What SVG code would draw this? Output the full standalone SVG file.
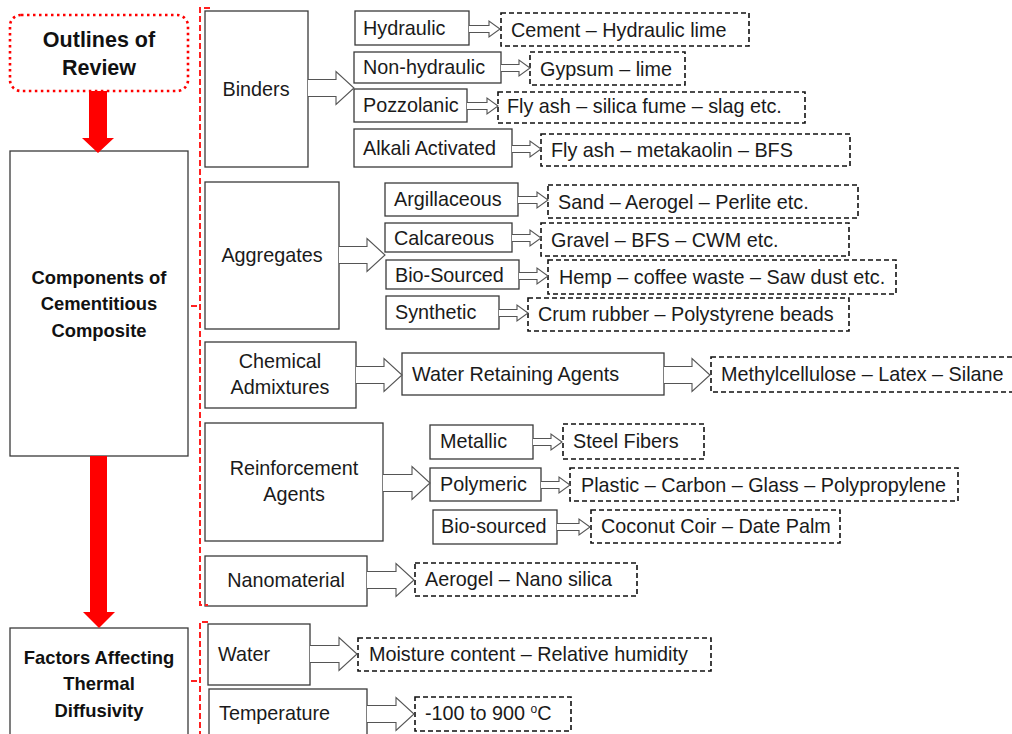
<svg xmlns="http://www.w3.org/2000/svg" width="1012" height="734" viewBox="0 0 1012 734">
<defs>
<style>
.bx{fill:#fff;stroke:#3a3a3a;stroke-width:1.3}
.dx{fill:#fff;stroke:#111;stroke-width:1.6;stroke-dasharray:5 3}
.t{font-family:"Liberation Sans",Arial,sans-serif;font-size:19.8px;fill:#1a1a1a}
.c{text-anchor:middle}
.b{font-family:"Liberation Sans",Arial,sans-serif;font-weight:bold;font-size:18.4px;fill:#111;text-anchor:middle}
.ha{fill:#fff;stroke:#555;stroke-width:1.1}
.red{fill:#ff0000}
.br{fill:none;stroke:#ff2020;stroke-width:2;stroke-dasharray:6 3}
</style>
</defs>

<g id="outlines">
<rect x="10" y="15" width="178" height="76" rx="11" fill="#fff" stroke="#ff0000" stroke-width="2.6" stroke-dasharray="2.5 3.5"/>
<text class="b" x="99" y="47" style="font-size:21.5px">Outlines of</text>
<text class="b" x="99" y="75" style="font-size:21.5px">Review</text>
</g>

<g id="components">
<rect class="bx" x="10" y="151" width="178" height="305" stroke="#111"/>
<text class="b" x="99" y="284">Components of</text>
<text class="b" x="99" y="310">Cementitious</text>
<text class="b" x="99" y="337">Composite</text>
</g>

<g id="factors">
<rect class="bx" x="10" y="628" width="178" height="120" stroke="#111"/>
<text class="b" x="99" y="664">Factors Affecting</text>
<text class="b" x="99" y="690">Thermal</text>
<text class="b" x="99" y="717">Diffusivity</text>
</g>

<g id="binders">
<rect class="bx" x="205" y="11" width="103" height="156"/>
<text class="t c" x="256" y="96">Binders</text>
</g>
<g id="hydraulic"><rect class="bx" x="355" y="11" width="114" height="34"/><text class="t" x="363" y="35">Hydraulic</text></g>
<g id="cement"><rect class="dx" x="501" y="13" width="248" height="33"/><text class="t" x="511" y="37">Cement – Hydraulic lime</text></g>
<g id="nonhydraulic"><rect class="bx" x="354" y="52" width="147" height="31"/><text class="t" x="363" y="74">Non-hydraulic</text></g>
<g id="gypsum"><rect class="dx" x="530" y="52" width="155" height="33"/><text class="t" x="540" y="76">Gypsum – lime</text></g>
<g id="pozzolanic"><rect class="bx" x="354" y="89" width="113" height="33"/><text class="t" x="363" y="112">Pozzolanic</text></g>
<g id="flyash1"><rect class="dx" x="498" y="92" width="307" height="31"/><text class="t" x="507" y="113">Fly ash – silica fume – slag etc.</text></g>
<g id="alkali"><rect class="bx" x="354" y="129" width="158" height="38"/><text class="t" x="363" y="155">Alkali Activated</text></g>
<g id="flyash2"><rect class="dx" x="541" y="134" width="309" height="32"/><text class="t" x="551" y="157">Fly ash – metakaolin – BFS</text></g>

<g id="aggregates">
<rect class="bx" x="205" y="182" width="134" height="147"/>
<text class="t c" x="272" y="262">Aggregates</text>
</g>
<g id="argillaceous"><rect class="bx" x="385" y="183" width="133" height="33"/><text class="t" x="394" y="206">Argillaceous</text></g>
<g id="sand"><rect class="dx" x="548" y="185" width="310" height="33"/><text class="t" x="558" y="209">Sand – Aerogel – Perlite etc.</text></g>
<g id="calcareous"><rect class="bx" x="385" y="223" width="127" height="29"/><text class="t" x="394" y="245">Calcareous</text></g>
<g id="gravel"><rect class="dx" x="541" y="223" width="308" height="33"/><text class="t" x="551" y="247">Gravel – BFS – CWM etc.</text></g>
<g id="biosourced1"><rect class="bx" x="386" y="260" width="133" height="29"/><text class="t" x="395" y="282">Bio-Sourced</text></g>
<g id="hemp"><rect class="dx" x="548" y="260" width="348" height="34"/><text class="t" x="559" y="284">Hemp – coffee waste – Saw dust etc.</text></g>
<g id="synthetic"><rect class="bx" x="386" y="296" width="113" height="33"/><text class="t" x="395" y="319">Synthetic</text></g>
<g id="crum"><rect class="dx" x="528" y="298" width="321" height="33"/><text class="t" x="538" y="321">Crum rubber – Polystyrene beads</text></g>

<g id="chemical">
<rect class="bx" x="205" y="342" width="151" height="66"/>
<text class="t c" x="280" y="368">Chemical</text>
<text class="t c" x="280" y="394">Admixtures</text>
</g>
<g id="waterretaining"><rect class="bx" x="402" y="353" width="262" height="42"/><text class="t" x="412" y="381">Water Retaining Agents</text></g>
<g id="methyl"><rect class="dx" x="711" y="357" width="310" height="35"/><text class="t" x="721" y="381">Methylcellulose – Latex – Silane</text></g>

<g id="reinforcement">
<rect class="bx" x="205" y="423" width="178" height="118"/>
<text class="t c" x="294" y="475">Reinforcement</text>
<text class="t c" x="294" y="501">Agents</text>
</g>
<g id="metallic"><rect class="bx" x="430" y="425" width="103" height="34"/><text class="t" x="440" y="448">Metallic</text></g>
<g id="steel"><rect class="dx" x="563" y="424" width="141" height="35"/><text class="t" x="573" y="448">Steel Fibers</text></g>
<g id="polymeric"><rect class="bx" x="430" y="468" width="111" height="33"/><text class="t" x="440" y="491">Polymeric</text></g>
<g id="plastic"><rect class="dx" x="570" y="468" width="388" height="33"/><text class="t" x="581" y="492">Plastic – Carbon – Glass – Polypropylene</text></g>
<g id="biosourced2"><rect class="bx" x="433" y="510" width="124" height="34"/><text class="t" x="441" y="533">Bio-sourced</text></g>
<g id="coconut"><rect class="dx" x="591" y="510" width="249" height="33"/><text class="t" x="601" y="533">Coconut Coir – Date Palm</text></g>

<g id="nanomaterial">
<rect class="bx" x="205" y="556" width="162" height="50"/>
<text class="t c" x="286" y="587">Nanomaterial</text>
</g>
<g id="aerogel"><rect class="dx" x="415" y="563" width="222" height="33"/><text class="t" x="425" y="586">Aerogel – Nano silica</text></g>

<g id="water">
<rect class="bx" x="208" y="624" width="102" height="61"/>
<text class="t" x="218" y="661">Water</text>
</g>
<g id="moisture"><rect class="dx" x="358" y="638" width="353" height="33"/><text class="t" x="369" y="661">Moisture content – Relative humidity</text></g>

<g id="temperature">
<rect class="bx" x="209" y="689" width="158" height="60"/>
<text class="t" x="219" y="720">Temperature</text>
</g>
<g id="range"><rect class="dx" x="415" y="697" width="156" height="34"/><text class="t" x="425" y="720">-100 to 900 <tspan font-size="12" dy="-7">o</tspan><tspan dy="7">C</tspan></text></g>

<g id="connectors">
<path class="red" d="M89,91 H107 V138 H114 L98,153 82,138 H89 Z"/>
<path class="red" d="M90,456 H107 V612 H115 L99,628 83,612 H90 Z"/>
<path class="br" d="M210,8 H200 V605 H208 M191,306 H200"/>
<path class="br" d="M208,622 H200 V740 M191,681 H200"/>

<g class="ha">
<path d="M308,79.5 H336 V71.5 L354,88 336,104.5 V96.5 H308"/>
<path d="M339,246.5 H367 V238.5 L385,255 367,271.5 V263.5 H339"/>
<path d="M356,366.5 H384 V358.5 L402,375 384,391.5 V383.5 H356"/>
<path d="M664,366.5 H692 V358.5 L710,375 692,391.5 V383.5 H664"/>
<path d="M383,474.5 H412 V466.5 L430,483 412,499.5 V491.5 H383"/>
<path d="M367,571.5 H396 V563.5 L414,580 396,596.5 V588.5 H367"/>
<path d="M310,645.5 H339 V637.5 L357,654 339,670.5 V662.5 H310"/>
<path d="M367,705.5 H396 V697.5 L414,714 396,730.5 V722.5 H367"/>
</g>
<g class="ha">
<path d="M469,25.5 H489 V21 L500,29 489,37 V32.5 H469"/>
<path d="M501,64.5 H519 V60 L530,68 519,76 V71.5 H501"/>
<path d="M467,102.5 H487 V98 L498,106 487,114 V109.5 H467"/>
<path d="M512,145.5 H530 V141 L541,149 530,157 V152.5 H512"/>
<path d="M518,196.5 H537 V192 L548,200 537,208 V203.5 H518"/>
<path d="M512,234.5 H530 V230 L541,238 530,246 V241.5 H512"/>
<path d="M519,272.5 H537 V268 L548,276 537,284 V279.5 H519"/>
<path d="M499,309.5 H517 V305 L528,313 517,321 V316.5 H499"/>
<path d="M533,438.5 H551 V434 L562,442 551,450 V445.5 H533"/>
<path d="M541,481.5 H559 V477 L570,485 559,493 V488.5 H541"/>
<path d="M557,523.5 H579 V519 L590,527 579,535 V530.5 H557"/>
</g>
</g>
</svg>
